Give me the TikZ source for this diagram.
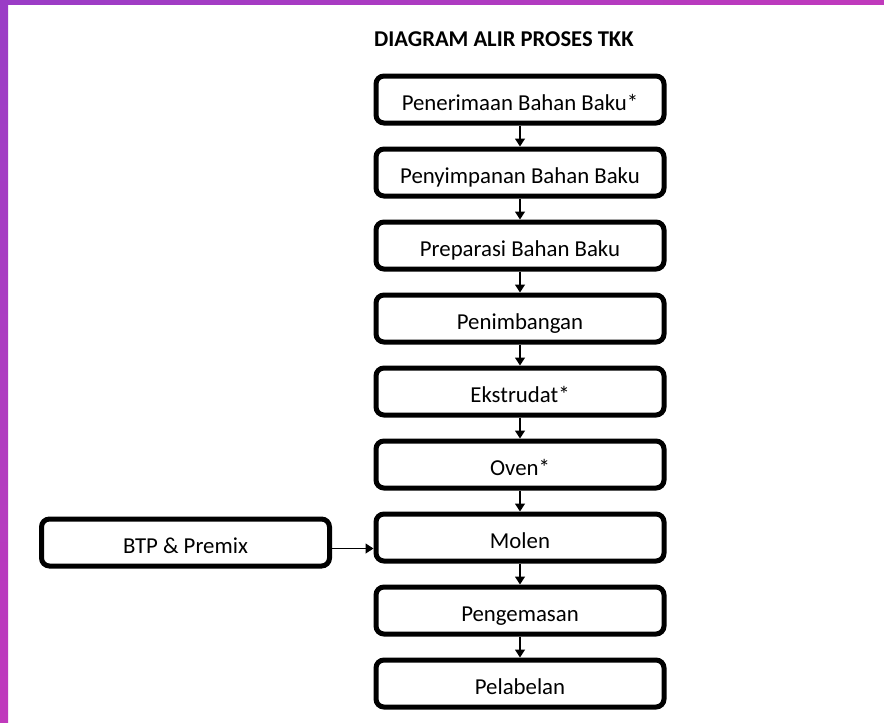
\documentclass[tikz,border=0pt]{standalone}
\usepackage{fontspec}
\setmainfont{Carlito}
\usetikzlibrary{arrows.meta}
\usetikzlibrary{positioning}

\definecolor{edgepurple}{RGB}{154,60,198}
\definecolor{edgemagenta}{RGB}{192,58,188}

\tikzset{
    procbox/.style={draw=black, line width=5pt, rounded corners=8pt, fill=white,
        minimum width=288pt, minimum height=47pt, inner sep=0pt,
        text height=21pt, text depth=0pt, font=\fontsize{22.8}{25}\selectfont},
    flow/.style={line width=1.2pt, -{Triangle[width=10pt, length=8pt]}},
}

\begin{document}
\begin{tikzpicture}[x=1pt, y=-1pt]

    \useasboundingbox (0,0) rectangle (884,723);
    \fill[white] (0,0) rectangle (884,723);

    % purple frame on the left and top edge
    \shade[top color=edgepurple, bottom color=edgemagenta] (0,0) rectangle (8,723);
    \shade[left color=edgepurple, right color=edgemagenta] (0,0) rectangle (884,4);

    \node[anchor=base west, inner sep=0pt, font=\bfseries\fontsize{22.6}{25}\selectfont] (title) at (374,46) {DIAGRAM ALIR PROSES TKK};

    \node[procbox] (terima) at (520,99.5) {Penerimaan Bahan Baku*};
    \node[procbox, below=21pt of terima] (simpan) {Penyimpanan Bahan Baku};
    \node[procbox, below=21pt of simpan] (preparasi) {Preparasi Bahan Baku};
    \node[procbox, below=21pt of preparasi] (timbang) {Penimbangan};
    \node[procbox, below=21pt of timbang] (ekstrudat) {Ekstrudat*};
    \node[procbox, below=21pt of ekstrudat] (oven) {Oven*};
    \node[procbox, below=21pt of oven] (molen) {Molen};
    \node[procbox, below=21pt of molen] (kemas) {Pengemasan};
    \node[procbox, below=21pt of kemas] (label) {Pelabelan};

    \node[procbox] (btp) at (185.5,542.5) {BTP \& Premix};

    \draw[flow] (terima) -- (simpan);
    \draw[flow] (simpan) -- (preparasi);
    \draw[flow] (preparasi) -- (timbang);
    \draw[flow] (timbang) -- (ekstrudat);
    \draw[flow] (ekstrudat) -- (oven);
    \draw[flow] (oven) -- (molen);
    \draw[flow] (molen) -- (kemas);
    \draw[flow] (kemas) -- (label);

    \draw[flow] ([yshift=-6pt]btp.east) -- ([yshift=-6pt]btp.east -| molen.west);

\end{tikzpicture}
\end{document}
